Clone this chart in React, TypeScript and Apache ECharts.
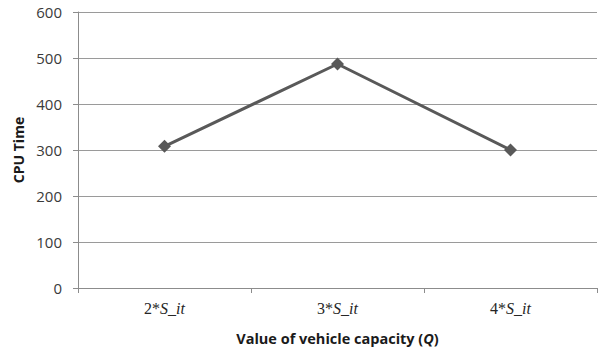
import React, { useEffect, useRef } from "react";
import * as echarts from "echarts";

// Vehicle capacity settings and the CPU time measured for each
const capacityFactors = ["2", "3", "4"];
const cpuTime = [308, 487, 300];
const yTicks = { min: 0, max: 600, interval: 100 };

export default function App() {
  const ref = useRef<HTMLDivElement>(null);

  useEffect(() => {
    if (!ref.current) return;
    const chart = echarts.init(ref.current, undefined, { renderer: "svg" });
    const categories = capacityFactors.map((f) => `${f}*S_it`);
    chart.setOption({
      animation: false,
      backgroundColor: "#ffffff",
      grid: { left: 78, right: 12, top: 12, bottom: 69, containLabel: false },
      xAxis: {
        type: "category",
        data: categories,
        boundaryGap: true,
        axisLine: { lineStyle: { color: "#8c8c8c", width: 1 } },
        axisTick: { show: true, length: 5, lineStyle: { color: "#8c8c8c" } },
        axisLabel: {
          margin: 12,
          formatter: (v: string) => {
            const [n, rest] = v.split("*");
            return `{n|${n}*}{s|${rest}}`;
          },
          rich: {
            n: { fontFamily: "Liberation Serif", fontSize: 16, color: "#262626" },
            s: {
              fontFamily: "Liberation Serif",
              fontStyle: "italic",
              fontSize: 16,
              color: "#262626",
            },
          },
        },
        name: "{b|Value of vehicle capacity (}{i|Q}{b|)}",
        nameLocation: "middle",
        nameGap: 43,
        nameTextStyle: {
          rich: {
            b: { fontFamily: "Open Sans", fontWeight: "bold", fontSize: 14.5, color: "#1a1a1a" },
            i: {
              fontFamily: "Open Sans",
              fontWeight: "bold",
              fontStyle: "italic",
              fontSize: 14.5,
              color: "#1a1a1a",
            },
          },
        },
      },
      yAxis: {
        type: "value",
        min: yTicks.min,
        max: yTicks.max,
        interval: yTicks.interval,
        axisLine: { show: true, lineStyle: { color: "#8c8c8c", width: 1 } },
        axisTick: { show: true, length: 5, lineStyle: { color: "#8c8c8c" } },
        splitLine: { show: true, lineStyle: { color: "#9a9a9a", width: 1 } },
        axisLabel: {
          margin: 16,
          fontFamily: "Open Sans",
          fontSize: 15,
          color: "#3a3a3a",
        },
        name: "CPU Time",
        nameLocation: "middle",
        nameGap: 49,
        nameRotate: 90,
        nameTextStyle: {
          fontFamily: "Open Sans",
          fontWeight: "bold",
          fontSize: 14,
          color: "#1a1a1a",
        },
      },
      series: [
        {
          type: "line",
          data: cpuTime,
          symbol: "diamond",
          symbolSize: 13,
          lineStyle: { color: "#595959", width: 3 },
          itemStyle: { color: "#595959" },
        },
      ],
    });
    return () => chart.dispose();
  }, []);

  return (
    <div
      ref={ref}
      style={{ position: "fixed", left: 0, top: 0, width: 609, height: 357 }}
    />
  );
}
